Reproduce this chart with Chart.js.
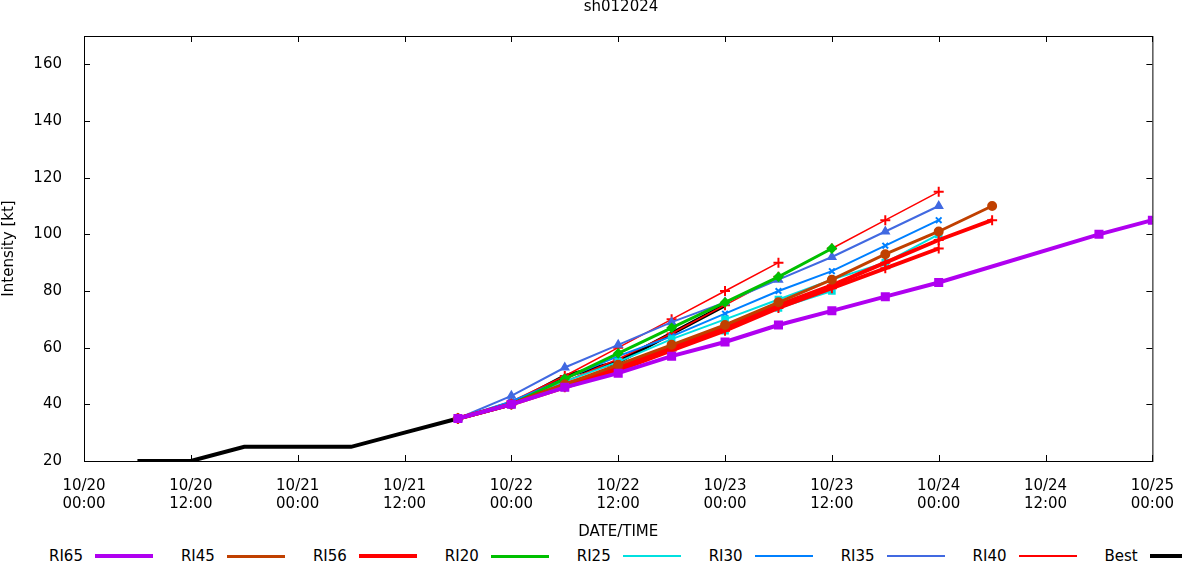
<!DOCTYPE html>
<html>
<head>
<meta charset="utf-8">
<script src="https://cdn.jsdelivr.net/npm/chart.js@4"></script>
<style>
  body { margin: 0; background: #fff; font-family: "DejaVu Sans", sans-serif; }
  #wrap { position: relative; width: 1182px; height: 545px; }
  #legend { display: flex; align-items: center; height: 22px; font-size: 15px; padding-left: 49px; }
  .item { display: flex; align-items: center; margin-right: 28px; }
  .sample { display: inline-block; width: 58px; margin-left: 12px; position: relative; }
</style>
</head>
<body>
<div id="wrap"><canvas id="c" width="1182" height="545"></canvas></div>
<div id="legend"></div>
<script>
// hours since 10/20 00:00
const bestHours = [6, 12, 18, 24, 30, 36, 42, 48, 54, 60, 66, 72];
const bestVals  = [20, 20, 25, 25, 25, 30, 35, 40, 50, 55, 65, 75];

const ri65Hours = [42, 48, 54, 60, 66, 72, 78, 84, 90, 96, 114, 120];
const ri65Vals  = [35, 40, 46, 51, 57, 62, 68, 73, 78, 83, 100, 105];

const ri45Hours = [42, 48, 54, 60, 66, 72, 78, 84, 90, 96, 102];
const ri45Vals  = [35, 40, 47, 54, 61, 68, 76, 84, 93, 101, 110];

const ri56aHours = [42, 48, 54, 60, 66, 72, 78, 84, 90, 96, 102];
const ri56aVals  = [35, 40, 47, 53, 60, 67, 75, 82, 90, 98, 105];
const ri56bHours = [42, 48, 54, 60, 66, 72, 78, 84, 90, 96];
const ri56bVals  = [35, 40, 46, 52, 59, 66, 74, 81, 88, 95];

const ri20Hours = [42, 48, 54, 60, 66, 72, 78, 84];
const ri20Vals  = [35, 40, 49, 58, 67, 76, 85, 95];

const ri25aHours = [42, 48, 54, 60, 66, 72, 78, 84, 90, 96];
const ri25aVals  = [35, 40, 48, 55, 63, 70, 77, 84, 90, 100];
const ri25bHours = [42, 48, 54, 60, 66, 72, 78, 84];
const ri25bVals  = [35, 40, 46, 52, 59, 66, 74, 80];

const ri30Hours = [42, 48, 54, 60, 66, 72, 78, 84, 90, 96];
const ri30Vals  = [35, 41, 49, 57, 64, 72, 80, 87, 96, 105];

const ri35Hours = [42, 48, 54, 60, 66, 72, 78, 84, 90, 96];
const ri35Vals  = [35, 43, 53, 61, 69, 76, 84, 92, 101, 110];

const ri40aHours = [42, 48, 54, 60, 66, 72, 78];
const ri40aVals  = [35, 41, 50, 60, 70, 80, 90];
const ri40bHours = [42, 48, 54, 60, 66, 72, 78, 84, 90, 96];
const ri40bVals  = [35, 40, 48, 56, 65, 75, 85, 95, 105, 115];

function pts(h, v) { return h.map((x, i) => ({ x: x, y: v[i] })); }

function series(label, h, v, color, width, marker, size, inLegend) {
  return {
    label: label, data: pts(h, v), borderColor: color, backgroundColor: color,
    borderWidth: width, pointStyle: marker, pointRadius: size, pointBorderWidth: 2,
    inLegend: inLegend
  };
}

const datasets = [
  series('RI65', ri65Hours, ri65Vals, '#b000f0', 4, 'rect', 5, true),
  series('RI45', ri45Hours, ri45Vals, '#c04000', 3, 'circle', 4, true),
  series('RI56', ri56aHours, ri56aVals, '#ff0000', 4, 'cross', 5, true),
  series('RI56', ri56bHours, ri56bVals, '#ff0000', 4, 'cross', 5, false),
  series('RI20', ri20Hours, ri20Vals, '#00c000', 3, 'rectRot', 4, true),
  series('RI25', ri25aHours, ri25aVals, '#00e0e0', 2, 'rect', 4, true),
  series('RI25', ri25bHours, ri25bVals, '#00e0e0', 2, 'rect', 4, false),
  series('RI30', ri30Hours, ri30Vals, '#0080ff', 2, 'crossRot', 4, true),
  series('RI35', ri35Hours, ri35Vals, '#4169e1', 2, 'triangle', 4, true),
  series('RI40', ri40aHours, ri40aVals, '#ff0000', 1.5, 'cross', 5, true),
  series('RI40', ri40bHours, ri40bVals, '#ff0000', 1.5, 'cross', 5, false),
  series('Best', bestHours, bestVals, '#000000', 4, false, 0, true)
];

function tickLabel(h) {
  const day = 20 + Math.floor(h / 24);
  const hr = h % 24;
  return ['10/' + day, (hr < 10 ? '0' : '') + hr + ':00'];
}

// title, frame and inward tick marks like the original
const framePlugin = {
  id: 'frame',
  afterDraw(chart) {
    const ctx = chart.ctx, a = chart.chartArea;
    ctx.save();
    ctx.strokeStyle = '#000';
    ctx.lineWidth = 1;
    ctx.strokeRect(a.left + 0.5, a.top + 0.5, a.right - a.left, a.bottom - a.top);
    const xs = chart.scales.x, ys = chart.scales.y;
    ctx.beginPath();
    for (let h = 0; h <= 120; h += 12) {
      const px = Math.round(xs.getPixelForValue(h)) + 0.5;
      ctx.moveTo(px, a.bottom); ctx.lineTo(px, a.bottom - 6);
      ctx.moveTo(px, a.top); ctx.lineTo(px, a.top + 6);
    }
    for (let v = 20; v <= 160; v += 20) {
      const py = Math.round(ys.getPixelForValue(v)) + 0.5;
      ctx.moveTo(a.left, py); ctx.lineTo(a.left + 6, py);
      ctx.moveTo(a.right, py); ctx.lineTo(a.right - 6, py);
    }
    ctx.stroke();
    ctx.fillStyle = '#000';
    ctx.font = '15px "DejaVu Sans"';
    ctx.textAlign = 'center';
    ctx.textBaseline = 'middle';
    ctx.fillText('sh012024', 621, 7);
    ctx.restore();
  }
};

const font = { family: 'DejaVu Sans', size: 15 };

new Chart(document.getElementById('c'), {
  type: 'line',
  data: { datasets: datasets },
  plugins: [framePlugin],
  options: {
    responsive: false,
    animation: false,
    layout: { padding: { top: 36, right: 22, left: 0, bottom: 0 } },
    plugins: { legend: { display: false }, tooltip: { enabled: false } },
    scales: {
      x: {
        type: 'linear', min: 0, max: 120,
        grid: { display: false }, border: { display: false },
        afterFit(s) { s.height = 84; },
        ticks: { stepSize: 12, color: '#000', font: font, padding: 8, maxRotation: 0,
                 callback: (v) => tickLabel(v) },
        title: { display: true, text: 'DATE/TIME', color: '#000', font: font, padding: { top: 10 } }
      },
      y: {
        min: 20, max: 170,
        grid: { display: false }, border: { display: false },
        afterFit(s) { s.width = 84; },
        ticks: { stepSize: 20, color: '#000', font: font, padding: 14,
                 callback: (v) => (v <= 160 ? v : '') },
        title: { display: true, text: 'Intensity [kt]', color: '#000', font: font, padding: 0 }
      }
    }
  }
});

// gnuplot style legend: label then line sample
const legend = document.getElementById('legend');
datasets.filter(d => d.inLegend).forEach(d => {
  const item = document.createElement('span');
  item.className = 'item';
  item.appendChild(document.createTextNode(d.label));
  const s = document.createElement('span');
  s.className = 'sample';
  s.style.height = Math.max(2, d.borderWidth) + 'px';
  s.style.background = d.borderColor;
  item.appendChild(s);
  legend.appendChild(item);
});
</script>
</body>
</html>
